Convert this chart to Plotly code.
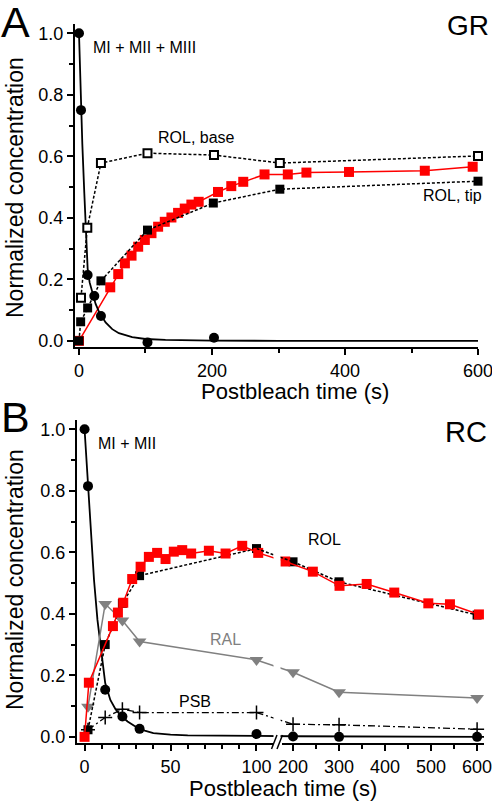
import plotly.graph_objects as go

W, H = 492, 806
FONT = "Liberation Sans, Arial, Helvetica, sans-serif"
BLACK = "#000000"
RED = "#ff0000"
GRAY = "#808080"

# ---------------- Panel A (GR) data ----------------
A_MI_T = [0, 3, 13, 23, 33, 103, 203]
A_MI_V = [1.0, 0.75, 0.214, 0.146, 0.081, -0.005, 0.01]
A_FIT_T = [0, 1.5, 3, 5, 8, 10, 13, 16, 20, 25, 30, 35, 40, 50, 60, 80, 100, 130, 160, 200, 300, 400, 600]
A_FIT_V = [1.0, 0.87, 0.75, 0.64, 0.48, 0.38, 0.235, 0.19, 0.155, 0.12, 0.095, 0.075, 0.06, 0.038,
           0.025, 0.012, 0.006, 0.003, 0.002, 0.001, 0.0, 0.0, 0.0]
A_BASE_T = [3, 12.5, 33, 103, 203, 302, 600]
A_BASE_V = [0.14, 0.368, 0.578, 0.61, 0.604, 0.578, 0.601]
A_TIP_T = [0, 2.5, 13, 33, 103, 202, 302, 600]
A_TIP_V = [0.0, 0.062, 0.107, 0.195, 0.36, 0.448, 0.493, 0.519]
A_RED_T = [0, 47, 59, 69, 79, 89, 99, 109, 119, 129, 139, 149, 159, 169, 180,
           209, 229, 247, 279, 314, 342, 406, 520, 592]
A_RED_V = [0.0, 0.174, 0.217, 0.252, 0.277, 0.306, 0.328, 0.35, 0.371, 0.387, 0.401, 0.416,
           0.43, 0.443, 0.452, 0.484, 0.503, 0.517, 0.541, 0.541, 0.547, 0.549, 0.553, 0.566]

# ---------------- Panel B (RC) data ----------------
B_MI_T = [0, 2, 12, 22, 32, 100, 200, 300, 600]
B_MI_V = [1.0, 0.815, 0.153, 0.066, 0.026, 0.009, 0.001, 0.0, 0.0]
B_FIT_T = [0, 2, 4, 5.5, 7.5, 9.5, 12, 15, 18, 21, 25, 30, 35, 40, 50, 60, 80, 100,
           200, 300, 400, 500, 600, 615]
B_FIT_V = [1.0, 0.815, 0.62, 0.51, 0.38, 0.28, 0.175, 0.12, 0.09, 0.07, 0.05, 0.032, 0.02,
           0.012, 0.007, 0.005, 0.004, 0.003, 0.002, 0.001, 0.0, 0.0, 0.0, 0.0]
B_ROL_T = [2, 12, 22, 32, 100, 200, 300, 600]
B_ROL_V = [0.023, 0.3, 0.434, 0.524, 0.612, 0.569, 0.504, 0.396]
B_RED_T = [0, 2.5, 16.5, 19.4, 22.5, 27.7, 32.6, 37.4, 42.2, 47.1, 51.9, 56.8, 62, 72.3, 82,
           91.7, 101, 183, 243, 301, 360, 420, 494, 541, 604]
B_RED_V = [0.0, 0.176, 0.36, 0.404, 0.436, 0.513, 0.553, 0.585, 0.598, 0.578, 0.602, 0.607,
           0.596, 0.605, 0.596, 0.621, 0.598, 0.57, 0.537, 0.491, 0.497, 0.469, 0.434, 0.431, 0.398]
B_RAL_T = [2, 12, 22, 32, 100, 200, 300, 600]
B_RAL_V = [0.098, 0.432, 0.378, 0.31, 0.25, 0.21, 0.145, 0.126]
B_PSB_T = [2, 12, 22, 32, 100, 200, 300, 600]
B_PSB_V = [0.023, 0.063, 0.09, 0.079, 0.079, 0.041, 0.039, 0.025]

# ---------------- geometry (pixels) ----------------
A_XDOM = (75, 478)
A_YDOM = (24, 347)
A_XRANGE = [-6, 600]
Y_RANGE = [-0.02, 1.03]
B_YDOM = (420, 743)
BL_XDOM = (77, 273)
BL_XRANGE = [-4.4, 109.6]
BR_XDOM = (282, 484)
BR_XRANGE = [176, 615]
BREAK_T = 150


def fx(px):
    return px / W


def fy(py):
    return 1 - py / H


def pxL(t):
    return BL_XDOM[0] + (t - BL_XRANGE[0]) / (BL_XRANGE[1] - BL_XRANGE[0]) * (BL_XDOM[1] - BL_XDOM[0])


def pxR(t):
    return BR_XDOM[0] + (t - BR_XRANGE[0]) / (BR_XRANGE[1] - BR_XRANGE[0]) * (BR_XDOM[1] - BR_XDOM[0])


fig = go.Figure()


def add(x, y, xa, ya, **kw):
    fig.add_trace(go.Scatter(x=x, y=y, xaxis=xa, yaxis=ya, showlegend=False,
                             cliponaxis=False, hoverinfo="skip", **kw))


# ---- Panel A traces ----
add(A_RED_T, A_RED_V, "x", "y", mode="lines+markers",
    line=dict(color=RED, width=1.5),
    marker=dict(symbol="square", size=10, color=RED))
add(A_FIT_T, A_FIT_V, "x", "y", mode="lines", line=dict(color=BLACK, width=1.8))
add(A_MI_T, A_MI_V, "x", "y", mode="markers", marker=dict(symbol="circle", size=10, color=BLACK))
add(A_TIP_T, A_TIP_V, "x", "y", mode="lines+markers",
    line=dict(color=BLACK, width=1.5, dash="3px,2px"),
    marker=dict(symbol="square", size=9, color=BLACK))
add(A_BASE_T, A_BASE_V, "x", "y", mode="lines+markers",
    line=dict(color=BLACK, width=1.5, dash="3px,2px"),
    marker=dict(symbol="square", size=8, color="white", line=dict(color=BLACK, width=2)))

# ---- Panel B traces (broken axis) ----
bridges = {}


def add_broken(t, v, mode, line=None, marker=None):
    L = [(a, b) for a, b in zip(t, v) if a < BREAK_T]
    R = [(a, b) for a, b in zip(t, v) if a >= BREAK_T]
    kw = {}
    if line is not None:
        kw["line"] = line
    if marker is not None:
        kw["marker"] = marker
    if L and R and "lines" in mode:
        key = (L[-1][0], R[0][0])
        if key not in bridges:
            bridges[key] = 4 + len(bridges)
        add([L[-1][0], R[0][0]], [L[-1][1], R[0][1]], "x%d" % bridges[key], "y2",
            mode="lines", line=line)
    if L:
        add([p[0] for p in L], [p[1] for p in L], "x2", "y2", mode=mode, **kw)
    if R:
        add([p[0] for p in R], [p[1] for p in R], "x3", "y2", mode=mode, **kw)


add_broken(B_FIT_T, B_FIT_V, "lines", line=dict(color=BLACK, width=1.8))
add_broken(B_MI_T, B_MI_V, "markers", marker=dict(symbol="circle", size=10, color=BLACK))
add_broken(B_RAL_T, B_RAL_V, "lines+markers", line=dict(color=GRAY, width=1.5),
           marker=dict(symbol="triangle-down", size=12, color=GRAY))
add_broken(B_PSB_T, B_PSB_V, "lines+markers",
           line=dict(color=BLACK, width=1.3, dash="7px,3px,2px,3px"),
           marker=dict(symbol="cross-thin", size=10, color=BLACK, line=dict(color=BLACK, width=1.5)))
add_broken(B_ROL_T, B_ROL_V, "lines+markers",
           line=dict(color=BLACK, width=1.5, dash="3px,2px"),
           marker=dict(symbol="square", size=9, color=BLACK))
add_broken(B_RED_T, B_RED_V, "lines+markers", line=dict(color=RED, width=1.5),
           marker=dict(symbol="square", size=10, color=RED))

# ---------------- axes ----------------
tickfont = dict(family=FONT, size=18, color=BLACK)
common = dict(showline=True, linecolor=BLACK, linewidth=2, ticks="outside", ticklen=6,
              tickwidth=2, tickcolor=BLACK, showgrid=False, zeroline=False,
              tickfont=tickfont, fixedrange=True, ticklabeloverflow="allow",
              automargin=False)


def yax(dom, anchor):
    return dict(domain=[fy(dom[1]), fy(dom[0])], range=Y_RANGE, anchor=anchor,
                tickmode="linear", tick0=0, dtick=0.2, tickformat=".1f",
                minor=dict(dtick=0.1, tick0=0, ticks="outside", ticklen=4, tickwidth=1.5,
                           tickcolor=BLACK),
                **common)


def xminor(d):
    return dict(dtick=d, tick0=0, ticks="outside", ticklen=4, tickwidth=1.5, tickcolor=BLACK)


layout = dict(
    width=W, height=H, margin=dict(l=0, r=0, t=0, b=0, autoexpand=False),
    paper_bgcolor="white", plot_bgcolor="rgba(0,0,0,0)",
    font=dict(family=FONT, color=BLACK),
    xaxis=dict(domain=[fx(A_XDOM[0]), fx(A_XDOM[1])], range=A_XRANGE, anchor="y",
               tickmode="linear", tick0=0, dtick=200,
               minor=xminor(100), **common),
    yaxis=yax(A_YDOM, "x"),
    xaxis2=dict(domain=[fx(BL_XDOM[0]), fx(BL_XDOM[1])], range=BL_XRANGE, anchor="y2",
                tickmode="linear", tick0=0, dtick=50,
                minor=xminor(10), **common),
    xaxis3=dict(domain=[fx(BR_XDOM[0]), fx(BR_XDOM[1])], range=BR_XRANGE, anchor="y2",
                tickmode="linear", tick0=0, dtick=100,
                minor=xminor(50), **common),
    yaxis2=yax(B_YDOM, "x2"),
)
for (t0, t1), n in bridges.items():
    layout["xaxis%d" % n] = dict(domain=[fx(pxL(t0)), fx(pxR(t1))], range=[t0, t1],
                                 anchor="y2", visible=False, fixedrange=True, automargin=False)
fig.update_layout(**layout)

# ---------------- break gap and marks ----------------
shapes = [
    dict(type="rect", xref="paper", yref="paper", x0=fx(273.5), x1=fx(280.5),
         y0=fy(746), y1=fy(420), fillcolor="white", line=dict(width=0), layer="above"),
    dict(type="line", xref="paper", yref="paper", x0=fx(271.5), y0=fy(749), x1=fx(277), y1=fy(735),
         line=dict(color=BLACK, width=1.5), layer="above"),
    dict(type="line", xref="paper", yref="paper", x0=fx(277), y0=fy(749), x1=fx(282.5), y1=fy(735),
         line=dict(color=BLACK, width=1.5), layer="above"),
]
fig.update_layout(shapes=shapes)

# ---------------- text ----------------


def ann(text, x, y, size, xanchor="left", color=BLACK, angle=0):
    fig.add_annotation(text=text, x=fx(x), y=fy(y), xref="paper", yref="paper",
                       xanchor=xanchor, yanchor="middle", showarrow=False,
                       textangle=angle, font=dict(family=FONT, size=size, color=color))


ann("A", -1, 22, 43)
ann("GR", 491, 25, 28, xanchor="right")
ann("B", -1, 417, 43)
ann("RC", 489, 432, 29, xanchor="right")
ann("MI + MII + MIII", 91, 47, 16)
ann("ROL, base", 156, 137, 16)
ann("ROL, tip", 421, 196, 16)
ann("MI + MII", 96, 443, 16)
ann("ROL", 306, 539, 16)
ann("RAL", 208, 639, 16, color=GRAY)
ann("PSB", 177, 701, 16)
ann("Postbleach time (s)", 295, 391, 22, xanchor="center")
ann("Postbleach time (s)", 283, 788, 22, xanchor="center")
ann("Normalized concentration", 15, 188, 23, xanchor="center", angle=-90)
ann("Normalized concentration", 15, 580, 23, xanchor="center", angle=-90)

fig.write_html("out.html", config={"displayModeBar": False},
               post_script="document.body.style.margin='0';document.body.style.overflow='hidden';")
